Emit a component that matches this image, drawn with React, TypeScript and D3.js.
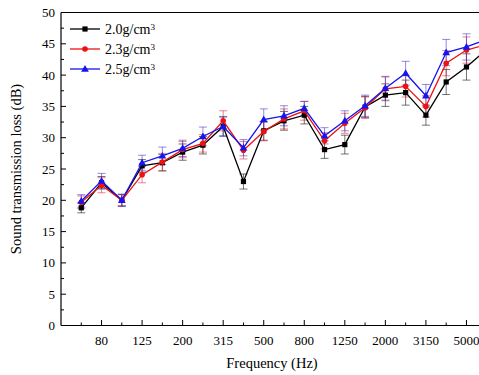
import React from "react";
import * as d3 from "d3";

const categories = ["63","80","100","125","160","200","250","315","400","500","630","800","1000","1250","1600","2000","2500","3150","4000","5000","6300"];
const tickLabels = ["80","125","200","315","500","800","1250","2000","3150","5000"];
const seriesNames = ["2.0g/cm", "2.3g/cm", "2.5g/cm"];

const black = [18.8, 22.8, 20.0, 25.5, 26.0, 27.7, 28.8, 31.8, 23.0, 31.1, 32.7, 33.6, 28.1, 28.9, 34.9, 36.8, 37.2, 33.6, 38.9, 41.3, 44.1];
const red   = [19.7, 22.4, 20.0, 24.1, 26.1, 28.1, 29.1, 32.7, 28.0, 31.0, 33.0, 34.3, 29.5, 32.3, 34.8, 37.8, 38.2, 35.0, 41.9, 44.0, 44.9];
const blue  = [19.9, 23.1, 20.0, 26.0, 27.1, 28.3, 30.2, 31.8, 28.4, 32.9, 33.5, 34.7, 30.3, 32.7, 35.1, 37.9, 40.3, 36.7, 43.6, 44.5, 45.7];

const blackErr = [0.8, 1.0, 0.9, 1.0, 1.3, 1.3, 1.4, 1.5, 1.2, 1.5, 1.5, 1.4, 1.4, 1.5, 1.7, 1.8, 2.0, 1.6, 2.0, 2.1, 2.0];
const redErr   = [1.0, 1.2, 0.9, 1.3, 1.4, 1.3, 1.4, 1.6, 1.4, 1.5, 1.6, 1.5, 1.3, 1.6, 1.7, 1.9, 1.7, 1.7, 2.0, 2.1, 2.0];
const blueErr  = [1.0, 1.2, 1.0, 1.2, 1.4, 1.3, 1.5, 1.6, 1.3, 1.7, 1.6, 1.1, 1.3, 1.6, 1.7, 1.9, 1.9, 1.8, 2.1, 2.1, 2.0];

const yTicks = [0, 5, 10, 15, 20, 25, 30, 35, 40, 45, 50];
const yMinorTicks = [2.5, 7.5, 12.5, 17.5, 22.5, 27.5, 32.5, 37.5, 42.5, 47.5];

const W = 479, H = 375;
const left = 61, top = 12.5, bottom = 325.5, right = 507;
const FONT = "'Liberation Serif', 'Times New Roman', serif";

export default function App() {
  const x = d3.scalePoint<string>().domain(categories).range([left, right]).padding(1);
  const y = d3.scaleLinear().domain([0, 50]).range([bottom, top]);
  const line = d3.line<number>().x((_, i) => x(categories[i]) as number).y((d) => y(d));

  const series = [
    { name: seriesNames[0], data: black, err: blackErr, color: "#000000", errColor: "rgba(0,0,0,0.55)", marker: "square" },
    { name: seriesNames[1], data: red, err: redErr, color: "#ee1111", errColor: "rgba(220,30,40,0.55)", marker: "circle" },
    { name: seriesNames[2], data: blue, err: blueErr, color: "#1515ee", errColor: "rgba(60,40,200,0.55)", marker: "triangle" },
  ];

  const marker = (type: string, cx: number, cy: number, color: string, key: string) => {
    if (type === "square") return <rect key={key} x={cx - 2.6} y={cy - 2.6} width={5.2} height={5.2} fill={color} />;
    if (type === "circle") return <circle key={key} cx={cx} cy={cy} r={2.8} fill={color} />;
    const sym = d3.symbol().type(d3.symbolTriangle).size(26)();
    return <path key={key} d={sym || ""} transform={`translate(${cx},${cy + 0.5})`} fill={color} />;
  };

  return (
    <svg width={W} height={H} style={{ display: "block", position: "absolute", left: 0, top: 0 }} fontFamily={FONT}>
      <rect x={0} y={0} width={W} height={H} fill="#fff" />
      <defs>
        <clipPath id="plot">
          <rect x={left} y={0} width={right - left} height={bottom} />
        </clipPath>
      </defs>
      {/* axes box */}
      <line x1={left} x2={right} y1={top} y2={top} stroke="#000" strokeWidth={1.2} />
      <line x1={left} x2={right} y1={bottom} y2={bottom} stroke="#000" strokeWidth={1.2} />
      <line x1={left} x2={left} y1={top} y2={bottom} stroke="#000" strokeWidth={1.2} />
      {/* y ticks */}
      {yTicks.map((t) => (
        <g key={"yt" + t}>
          <line x1={left} x2={left + 5} y1={y(t)} y2={y(t)} stroke="#000" strokeWidth={1} />
          <text x={left - 6} y={y(t)} dy="0.35em" textAnchor="end" fontSize={13}>{t}</text>
        </g>
      ))}
      {yMinorTicks.map((t) => (
        <line key={"ym" + t} x1={left} x2={left + 3} y1={y(t)} y2={y(t)} stroke="#000" strokeWidth={1} />
      ))}
      {/* x ticks */}
      {categories.map((c) => {
        const major = tickLabels.includes(c);
        const cx = x(c) as number;
        return (
          <g key={"xt" + c}>
            <line x1={cx} x2={cx} y1={bottom} y2={bottom - (major ? 5.5 : 3)} stroke="#000" strokeWidth={1} />
            {major && <text x={cx} y={bottom + 19} textAnchor="middle" fontSize={13}>{c}</text>}
          </g>
        );
      })}
      {/* axis titles */}
      <text x={272} y={368} textAnchor="middle" fontSize={14.5}>Frequency (Hz)</text>
      <text transform={`translate(21,169) rotate(-90)`} textAnchor="middle" fontSize={14.5}>Sound transmission loss (dB)</text>
      {/* data */}
      <g clipPath="url(#plot)">
        {series.map((s) => (
          <g key={"e" + s.name}>
            {s.data.map((v, i) => {
              const cx = x(categories[i]) as number;
              const y1 = y(v + s.err[i]);
              const y2 = y(v - s.err[i]);
              return (
                <g key={i} stroke={s.errColor} strokeWidth={1}>
                  <line x1={cx} x2={cx} y1={y1} y2={y2} />
                  <line x1={cx - 4} x2={cx + 4} y1={y1} y2={y1} />
                  <line x1={cx - 4} x2={cx + 4} y1={y2} y2={y2} />
                </g>
              );
            })}
          </g>
        ))}
        {series.map((s) => (
          <g key={"l" + s.name}>
            <path d={line(s.data) || ""} fill="none" stroke={s.color} strokeWidth={1.3} />
            {s.data.map((v, i) => marker(s.marker, x(categories[i]) as number, y(v), s.color, s.name + i))}
          </g>
        ))}
      </g>
      {/* legend */}
      {series.map((s, i) => {
        const ly = 29 + i * 20;
        return (
          <g key={"lg" + s.name}>
            <line x1={70} x2={100} y1={ly} y2={ly} stroke={s.color} strokeWidth={1.3} />
            {marker(s.marker, 85, ly, s.color, "lm" + i)}
            <text x={105} y={ly} dy="0.35em" fontSize={14}>
              {s.name}
              <tspan dy="-0.45em" fontSize={9}>3</tspan>
            </text>
          </g>
        );
      })}
    </svg>
  );
}
